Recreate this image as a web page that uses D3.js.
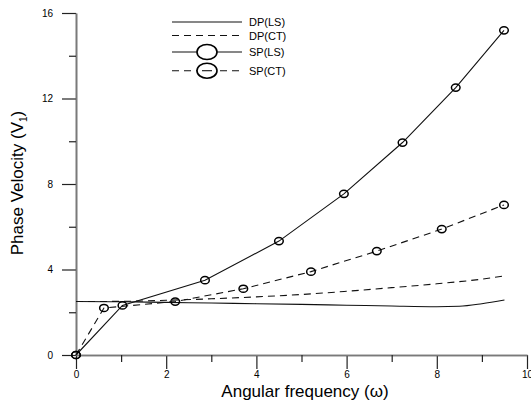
<!DOCTYPE html>
<html>
<head>
<meta charset="utf-8">
<script src="https://cdn.jsdelivr.net/npm/d3@7"></script>
<style>
  html, body { margin: 0; padding: 0; background: #fff; }
  svg { display: block; }
  text { font-family: "Liberation Sans", Arial, sans-serif; fill: #000; }
</style>
</head>
<body>
<svg id="chart" width="531" height="401"></svg>
<script>
// ---- data ----
const dpLS_x = [0, 1, 2, 3, 4, 5, 6, 7, 8, 8.5, 9, 9.5];
const dpLS_y = [2.5, 2.49, 2.46, 2.43, 2.4, 2.37, 2.33, 2.29, 2.26, 2.28, 2.4, 2.57];
const dpCT_x = [0, 1, 2, 3, 4, 5, 6, 7, 8, 9, 9.5];
const dpCT_y = [2.5, 2.51, 2.56, 2.63, 2.72, 2.83, 2.98, 3.15, 3.33, 3.55, 3.7];
const spLS_x = [0, 1.03, 2.86, 4.5, 5.94, 7.24, 8.42, 9.49];
const spLS_y = [0, 2.32, 3.5, 5.33, 7.54, 9.94, 12.51, 15.19];
const spCT_x = [0, 0.62, 2.2, 3.71, 5.21, 6.67, 8.11, 9.49];
const spCT_y = [0, 2.2, 2.5, 3.1, 3.9, 4.86, 5.89, 7.02];
const xMajorTicks = [0, 2, 4, 6, 8, 10];
const xMinorTicks = [1, 3, 5, 7, 9];
const yMajorTicks = [0, 4, 8, 12, 16];
const yMinorTicks = [2, 6, 10, 14];
const legendLabels = ["DP(LS)", "DP(CT)", "SP(LS)", "SP(CT)"];

// ---- layout ----
const svg = d3.select("#chart");
const x = d3.scaleLinear().domain([0, 10]).range([76, 527]);
const y = d3.scaleLinear().domain([0, 16]).range([355, 13]);
const zip = (xs, ys) => xs.map((v, i) => [v, ys[i]]);

// axes
const axisColor = "#7a7a7a";
const gx = svg.append("g").attr("transform", `translate(0,${y(0)})`);
gx.call(d3.axisBottom(x).tickValues(xMajorTicks).tickSize(14).tickPadding(2).tickSizeOuter(0).tickFormat(d3.format("d")));
gx.append("g").call(d3.axisBottom(x).tickValues(xMinorTicks).tickSize(7).tickSizeOuter(0).tickFormat(""));
const gy = svg.append("g").attr("transform", `translate(${x(0)},0)`);
gy.call(d3.axisLeft(y).tickValues(yMajorTicks).tickSize(14).tickSizeOuter(0).tickFormat(d3.format("d")));
gy.append("g").call(d3.axisLeft(y).tickValues(yMinorTicks).tickSize(7).tickSizeOuter(0).tickFormat(""));
svg.selectAll(".domain").attr("stroke", axisColor).attr("stroke-width", 1.6);
svg.selectAll(".tick line").attr("stroke", "#222").attr("stroke-width", 1.2);
svg.selectAll(".tick text").attr("font-size", 10).attr("font-family", "Liberation Sans, Arial, sans-serif").attr("fill", "#222");
gy.selectAll(".tick text").attr("dx", "-0.6em");

// titles
svg.append("text").attr("x", 305).attr("y", 397).attr("text-anchor", "middle")
  .attr("font-size", 17).text("Angular frequency (ω)");
const yt = svg.append("text").attr("transform", "translate(23,183) rotate(-90)")
  .attr("text-anchor", "middle").attr("font-size", 17);
yt.append("tspan").text("Phase Velocity (V");
yt.append("tspan").attr("font-size", 10).attr("dy", 4).text("1");
yt.append("tspan").attr("dy", -4).text(")");

// lines
const line = d3.line().x(d => x(d[0])).y(d => y(d[1]));
const smooth = d3.line().x(d => x(d[0])).y(d => y(d[1])).curve(d3.curveMonotoneX);
const dash = "7,5";
svg.append("path").datum(zip(dpLS_x, dpLS_y)).attr("d", smooth).attr("fill", "none").attr("stroke", "#111").attr("stroke-width", 1.1);
svg.append("path").datum(zip(dpCT_x, dpCT_y)).attr("d", smooth).attr("fill", "none").attr("stroke", "#111").attr("stroke-width", 1.1).attr("stroke-dasharray", dash);
svg.append("path").datum(zip(spLS_x, spLS_y)).attr("d", line).attr("fill", "none").attr("stroke", "#111").attr("stroke-width", 1.1);
svg.append("path").datum(zip(spCT_x, spCT_y)).attr("d", line).attr("fill", "none").attr("stroke", "#111").attr("stroke-width", 1.1).attr("stroke-dasharray", dash);

// markers
const markers = zip(spLS_x, spLS_y).concat(zip(spCT_x, spCT_y));
svg.append("g").selectAll("ellipse").data(markers).join("ellipse")
  .attr("cx", d => x(d[0])).attr("cy", d => y(d[1])).attr("rx", 4.3).attr("ry", 3.6)
  .attr("fill", "#fff").attr("fill-opacity", 0).attr("stroke", "#000").attr("stroke-width", 1.5);

// legend
const legRows = [22, 35.5, 52, 70.7];
const leg = svg.append("g");
legendLabels.forEach((lab, i) => {
  const ly = legRows[i];
  const g = leg.append("g");
  g.append("line").attr("x1", 172).attr("x2", 242).attr("y1", ly).attr("y2", ly)
    .attr("stroke", "#111").attr("stroke-width", 1.1)
    .attr("stroke-dasharray", (i === 1 || i === 3) ? dash : null);
  if (i >= 2) {
    g.append("ellipse").attr("cx", 207).attr("cy", ly).attr("rx", 10).attr("ry", 7.5)
      .attr("fill", "#fff").attr("stroke", "#000").attr("stroke-width", 1.6);
    if (i === 3) {
      g.append("line").attr("x1", 202).attr("x2", 212).attr("y1", ly).attr("y2", ly)
        .attr("stroke", "#111").attr("stroke-width", 1.1);
    }
  }
  g.append("text").attr("x", 249).attr("y", ly + 4).attr("font-size", 11).text(lab);
});
</script>
</body>
</html>
